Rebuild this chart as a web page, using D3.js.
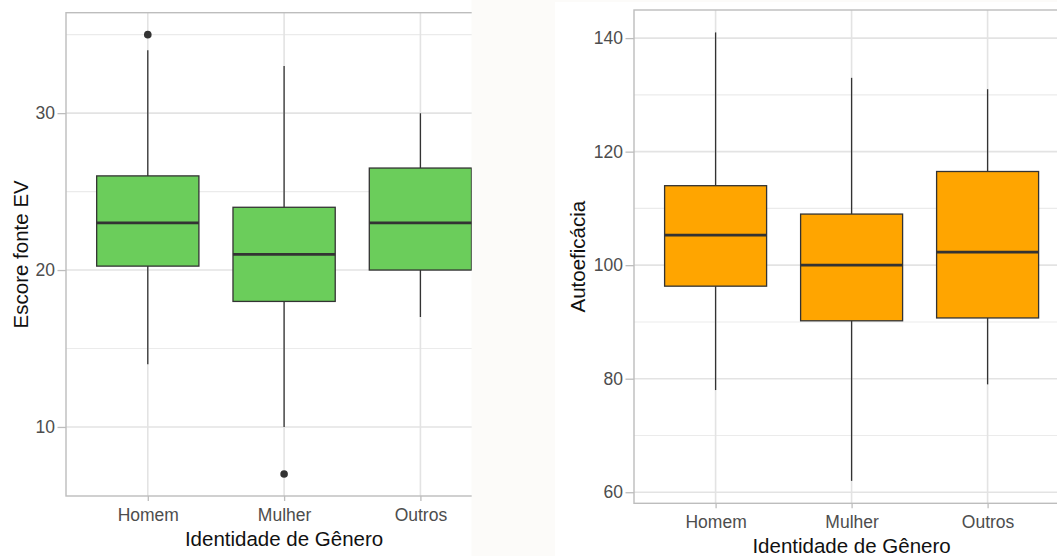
<!DOCTYPE html>
<html>
<head>
<meta charset="utf-8">
<title>boxplots genero</title>
<script src="https://cdn.jsdelivr.net/npm/d3@7"></script>
<style>
  body{margin:0;background:#fcfbf9;}
  svg{display:block;}
  text{font-family:"Liberation Sans", Arial, sans-serif;}
</style>
</head>
<body>
<div id="container"></div>
<script>
  // categorias
  var categories = ["Homem", "Mulher", "Outros"];

  // Escore fonte EV (painel verde)
  var evMin = [14, 10, 17];
  var evQ1 = [20.25, 18, 20];
  var evMed = [23, 21, 23];
  var evQ3 = [26, 24, 26.5];
  var evMax = [34, 33, 30];
  var evOutliers = [[35], [7], []];
  var evMajor = [10, 20, 30];
  var evMinor = [15, 25, 35];

  // Autoeficacia (painel laranja)
  var aeMin = [78, 62, 79];
  var aeQ1 = [96.3, 90.2, 90.7];
  var aeMed = [105.3, 100, 102.3];
  var aeQ3 = [114, 109, 116.5];
  var aeMax = [141, 133, 131];
  var aeOutliers = [[], [], []];
  var aeMajor = [60, 80, 100, 120, 140];
  var aeMinor = [70, 90, 110, 130];

  var W = 1057, H = 556;

  var svg = d3.select("#container").append("svg")
      .attr("width", W)
      .attr("height", H);

  svg.append("rect").attr("width", W).attr("height", H).attr("fill", "#fcfbf9");

  var defs = svg.append("defs");
  defs.append("clipPath").attr("id", "clipL")
    .append("rect").attr("x", 0).attr("y", 0).attr("width", 471.7).attr("height", H);
  defs.append("clipPath").attr("id", "clipR")
    .append("rect").attr("x", 555).attr("y", 2).attr("width", W - 555).attr("height", H - 2);

  function rows(mn, q1, md, q3, mx, out){
    return categories.map(function(c, i){
      return {cat: c, min: mn[i], q1: q1[i], med: md[i], q3: q3[i], max: mx[i], out: out[i]};
    });
  }

  function drawPanel(cfg){
    var g = svg.append("g").attr("clip-path", "url(#" + cfg.clip + ")");
    g.append("rect")
      .attr("x", cfg.bgX).attr("y", cfg.bgY)
      .attr("width", cfg.bgW).attr("height", H - cfg.bgY)
      .attr("fill", "#fff");

    var x = d3.scalePoint().domain(categories).range([cfg.left, cfg.right]).padding(0.6);
    var y = d3.scaleLinear().domain(cfg.domain).range([cfg.bottom, cfg.top]);
    var bw = x.step() * 0.75;

    // grid
    g.selectAll(".minor").data(cfg.minor).enter().append("line")
      .attr("x1", cfg.left).attr("x2", cfg.right)
      .attr("y1", function(d){ return y(d); }).attr("y2", function(d){ return y(d); })
      .attr("stroke", "#ebebeb").attr("stroke-width", 1.1);
    g.selectAll(".major").data(cfg.major).enter().append("line")
      .attr("x1", cfg.left).attr("x2", cfg.right)
      .attr("y1", function(d){ return y(d); }).attr("y2", function(d){ return y(d); })
      .attr("stroke", "#e3e3e3").attr("stroke-width", 1.6);
    g.selectAll(".vgrid").data(categories).enter().append("line")
      .attr("x1", function(d){ return x(d); }).attr("x2", function(d){ return x(d); })
      .attr("y1", cfg.top).attr("y2", cfg.bottom)
      .attr("stroke", "#e3e3e3").attr("stroke-width", 1.6);

    var data = rows.apply(null, cfg.stats);
    var bx = g.selectAll(".box").data(data).enter().append("g");

    bx.append("line")
      .attr("x1", function(d){ return x(d.cat); }).attr("x2", function(d){ return x(d.cat); })
      .attr("y1", function(d){ return y(d.max); }).attr("y2", function(d){ return y(d.q3); })
      .attr("stroke", "#333").attr("stroke-width", 1.3);
    bx.append("line")
      .attr("x1", function(d){ return x(d.cat); }).attr("x2", function(d){ return x(d.cat); })
      .attr("y1", function(d){ return y(d.q1); }).attr("y2", function(d){ return y(d.min); })
      .attr("stroke", "#333").attr("stroke-width", 1.3);
    bx.append("rect")
      .attr("x", function(d){ return x(d.cat) - bw / 2; })
      .attr("width", bw)
      .attr("y", function(d){ return y(d.q3); })
      .attr("height", function(d){ return y(d.q1) - y(d.q3); })
      .attr("fill", cfg.fill).attr("stroke", "#333").attr("stroke-width", 1.3);
    bx.append("line")
      .attr("x1", function(d){ return x(d.cat) - bw / 2; }).attr("x2", function(d){ return x(d.cat) + bw / 2; })
      .attr("y1", function(d){ return y(d.med); }).attr("y2", function(d){ return y(d.med); })
      .attr("stroke", "#333").attr("stroke-width", 2.7);
    bx.each(function(d){
      d3.select(this).selectAll("circle").data(d.out).enter().append("circle")
        .attr("cx", x(d.cat)).attr("cy", function(v){ return y(v); })
        .attr("r", 3.8).attr("fill", "#333");
    });

    // border
    g.append("rect")
      .attr("x", cfg.left).attr("y", cfg.top)
      .attr("width", cfg.right - cfg.left).attr("height", cfg.bottom - cfg.top)
      .attr("fill", "none").attr("stroke", "#bdbdbd").attr("stroke-width", 1.4);

    // axes
    var yAxis = d3.axisLeft(y).tickValues(cfg.major).tickSize(8.5).tickPadding(2.5);
    var ya = g.append("g").attr("transform", "translate(" + cfg.left + ",0)").call(yAxis);
    var xAxis = d3.axisBottom(x).tickSize(5).tickPadding(7.5);
    var xa = g.append("g").attr("transform", "translate(0," + cfg.bottom + ")").call(xAxis);
    [ya, xa].forEach(function(a){
      a.select(".domain").remove();
      a.selectAll(".tick line").attr("stroke", "#bdbdbd").attr("stroke-width", 1.3);
      a.selectAll(".tick text").attr("fill", "#4d4d4d")
        .style("font-size", "17.5px").style("font-family", "Liberation Sans, Arial, sans-serif");
    });

    g.append("text")
      .attr("x", (cfg.left + cfg.right) / 2 - cfg.titleShift)
      .attr("y", cfg.bottom + 50)
      .attr("text-anchor", "middle")
      .style("font-size", "20.5px")
      .attr("fill", "#111")
      .text("Identidade de Gênero");

    g.append("text")
      .attr("transform", "translate(" + cfg.yTitleX + "," + ((cfg.top + cfg.bottom) / 2) + ") rotate(-90)")
      .attr("text-anchor", "middle")
      .style("font-size", "20.5px")
      .attr("fill", "#111")
      .text(cfg.yTitle);
  }

  drawPanel({
    clip: "clipL", bgX: 0, bgY: 0, bgW: 471.7,
    left: 66, right: 502.2, top: 12.7, bottom: 496,
    domain: [5.6, 36.4], major: evMajor, minor: evMinor,
    stats: [evMin, evQ1, evMed, evQ3, evMax, evOutliers],
    fill: "#6bcd5b", yTitle: "Escore fonte EV", yTitleX: 28, titleShift: 0
  });

  drawPanel({
    clip: "clipR", bgX: 555, bgY: 2, bgW: W - 555,
    left: 634, right: 1069.2, top: 10, bottom: 503.3,
    domain: [58.05, 144.95], major: aeMajor, minor: aeMinor,
    stats: [aeMin, aeQ1, aeMed, aeQ3, aeMax, aeOutliers],
    fill: "#ffa500", yTitle: "Autoeficácia", yTitleX: 585, titleShift: 0
  });
</script>
</body>
</html>
